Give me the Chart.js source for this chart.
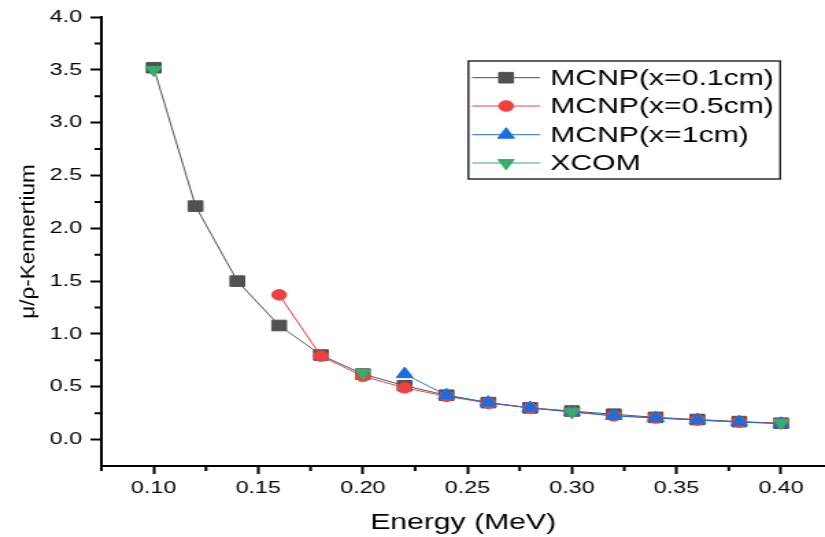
<!DOCTYPE html>
<html>
<head>
<meta charset="utf-8">
<script src="https://cdn.jsdelivr.net/npm/chart.js@4.4.1/dist/chart.umd.min.js"></script>
<style>
  html, body { margin: 0; padding: 0; background: #fff; overflow: hidden; }
  /* the figure is drawn narrow and widened, like the exported plot */
  #wrap { width: 602px; height: 537px; transform: scaleX(1.3704); transform-origin: 0 0; }
</style>
</head>
<body>
<div id="wrap"><canvas id="chart" width="602" height="537"></canvas></div>
<script>
var energy = [0.10, 0.12, 0.14, 0.16, 0.18, 0.20, 0.22, 0.24, 0.26, 0.28, 0.30, 0.32, 0.34, 0.36, 0.38, 0.40];
var mcnp01 = [3.52, 2.21, 1.50, 1.08, 0.80, 0.62, 0.51, 0.42, 0.35, 0.30, 0.27, 0.24, 0.21, 0.19, 0.17, 0.155];
var mcnp05 = [null, null, null, 1.37, 0.79, 0.60, 0.49, 0.41, 0.345, 0.30, 0.265, 0.225, 0.205, 0.185, 0.165, 0.155];
var mcnp1  = [null, null, null, null, null, null, 0.62, 0.42, 0.35, 0.30, 0.26, 0.225, 0.205, 0.185, 0.167, 0.15];
var xcom   = [3.50, null, null, null, null, 0.63, null, null, null, null, 0.26, null, null, null, null, 0.16];

var seriesNames = ['MCNP(x=0.1cm)', 'MCNP(x=0.5cm)', 'MCNP(x=1cm)', 'XCOM'];
var yTitleText = 'μ/ρ-Kennertium';
var xTitleText = 'Energy (MeV)';

var xTicks = [0.10, 0.15, 0.20, 0.25, 0.30, 0.35, 0.40];
var xMinor = [0.075, 0.125, 0.175, 0.225, 0.275, 0.325, 0.375];
var yTicks = [0.0, 0.5, 1.0, 1.5, 2.0, 2.5, 3.0, 3.5, 4.0];
var yMinor = [0.25, 0.75, 1.25, 1.75, 2.25, 2.75, 3.25, 3.75];

var family = 'Arial, "Liberation Sans", sans-serif';

function pts(vals) {
  return energy.map(function (e, i) { return { x: e, y: vals[i] }; });
}

var styles = [
  { color: '#515151', pointStyle: 'rect', radius: 7.5, rotation: 0 },
  { color: '#F14040', pointStyle: 'circle', radius: 5.3, rotation: 0 },
  { color: '#1A6FDF', pointStyle: 'triangle', radius: 7, rotation: 0 },
  { color: '#37AD6B', pointStyle: 'triangle', radius: 6.8, rotation: 180 }
];
var allSeries = [mcnp01, mcnp05, mcnp1, xcom];

var datasets = allSeries.map(function (vals, i) {
  var s = styles[i];
  return {
    label: seriesNames[i],
    data: pts(vals),
    borderColor: s.color,
    backgroundColor: s.color,
    borderWidth: 1,
    pointStyle: s.pointStyle,
    pointRadius: s.radius,
    pointRotation: s.rotation,
    pointBorderWidth: 1,
    pointBorderColor: s.color,
    pointBackgroundColor: s.color,
    spanGaps: false,
    tension: 0,
    order: 4 - i
  };
});

// small ticks between the labelled ones
var minorTicks = {
  id: 'minorTicks',
  afterDraw: function (chart) {
    var ctx = chart.ctx, xs = chart.scales.x, ys = chart.scales.y;
    ctx.save();
    ctx.strokeStyle = '#000';
    ctx.lineWidth = 2;
    ctx.beginPath();
    xMinor.forEach(function (v) {
      var px = xs.getPixelForValue(v);
      ctx.moveTo(px, xs.top);
      ctx.lineTo(px, xs.top + 5);
    });
    yMinor.forEach(function (v) {
      var py = ys.getPixelForValue(v);
      ctx.moveTo(ys.right, py);
      ctx.lineTo(ys.right - 5, py);
    });
    ctx.stroke();
    ctx.restore();
  }
};

// rotated y title, drawn narrow
var yTitle = {
  id: 'yTitle',
  afterDraw: function (chart) {
    var ctx = chart.ctx, area = chart.chartArea;
    ctx.save();
    ctx.translate(21, (area.top + area.bottom) / 2);
    ctx.scale(0.62, 1);
    ctx.rotate(-Math.PI / 2);
    ctx.font = '22.5px ' + family;
    ctx.fillStyle = '#000';
    ctx.textAlign = 'center';
    ctx.textBaseline = 'middle';
    ctx.fillText(yTitleText, 0, 0);
    ctx.restore();
  }
};

// legend box with line + symbol samples
var lineLegend = {
  id: 'lineLegend',
  afterDraw: function (chart) {
    var ctx = chart.ctx;
    var box = { left: 341.8, top: 61, right: 569.3, bottom: 179 };
    var rows = [77.7, 106, 134.7, 163];
    ctx.save();
    ctx.fillStyle = '#fff';
    ctx.fillRect(box.left, box.top, box.right - box.left, box.bottom - box.top);
    ctx.strokeStyle = '#222';
    ctx.lineWidth = 1.4;
    ctx.strokeRect(box.left, box.top, box.right - box.left, box.bottom - box.top);
    seriesNames.forEach(function (name, i) {
      var s = styles[i], y = rows[i];
      ctx.strokeStyle = s.color;
      ctx.lineWidth = 1;
      ctx.beginPath();
      ctx.moveTo(344.5, y);
      ctx.lineTo(394, y);
      ctx.stroke();
      ctx.fillStyle = s.color;
      Chart.helpers.drawPoint(ctx, {
        pointStyle: s.pointStyle, rotation: s.rotation, radius: s.radius, borderWidth: 1
      }, 369.3, y);
      ctx.fillStyle = '#000';
      ctx.font = '22px ' + family;
      ctx.textAlign = 'left';
      ctx.textBaseline = 'middle';
      ctx.fillText(name, 401.5, y + 1);
    });
    ctx.restore();
  }
};

new Chart(document.getElementById('chart').getContext('2d'), {
  type: 'line',
  data: { datasets: datasets },
  plugins: [minorTicks, yTitle, lineLegend],
  options: {
    responsive: false,
    animation: false,
    devicePixelRatio: 1,
    layout: { autoPadding: false, padding: { top: 17, right: 0, bottom: 0, left: 0 } },
    plugins: { legend: { display: false }, tooltip: { enabled: false } },
    scales: {
      x: {
        type: 'linear',
        min: 0.075,
        max: 0.421,
        afterFit: function (s) { s.height = 71; },
        afterBuildTicks: function (s) { s.ticks = xTicks.map(function (v) { return { value: v }; }); },
        border: { display: true, color: '#000', width: 2 },
        grid: { drawOnChartArea: false, drawTicks: true, tickLength: 8, tickWidth: 2, tickColor: '#000' },
        ticks: {
          color: '#000', font: { family: family, size: 17 }, padding: 4,
          maxRotation: 0, autoSkip: false,
          callback: function (v) { return Number(v).toFixed(2); }
        },
        title: {
          display: true, text: xTitleText, color: '#000',
          font: { family: family, size: 22 }, padding: { top: 0, bottom: 1 }
        }
      },
      y: {
        type: 'linear',
        min: -0.25,
        max: 4.0,
        afterFit: function (s) { s.width = 74; },
        afterBuildTicks: function (s) { s.ticks = yTicks.map(function (v) { return { value: v }; }); },
        border: { display: true, color: '#000', width: 2 },
        grid: { drawOnChartArea: false, drawTicks: true, tickLength: 8, tickWidth: 2, tickColor: '#000' },
        ticks: {
          color: '#000', font: { family: family, size: 17 }, padding: 6,
          autoSkip: false,
          callback: function (v) { return Number(v).toFixed(1); }
        }
      }
    }
  }
});
</script>
</body>
</html>
